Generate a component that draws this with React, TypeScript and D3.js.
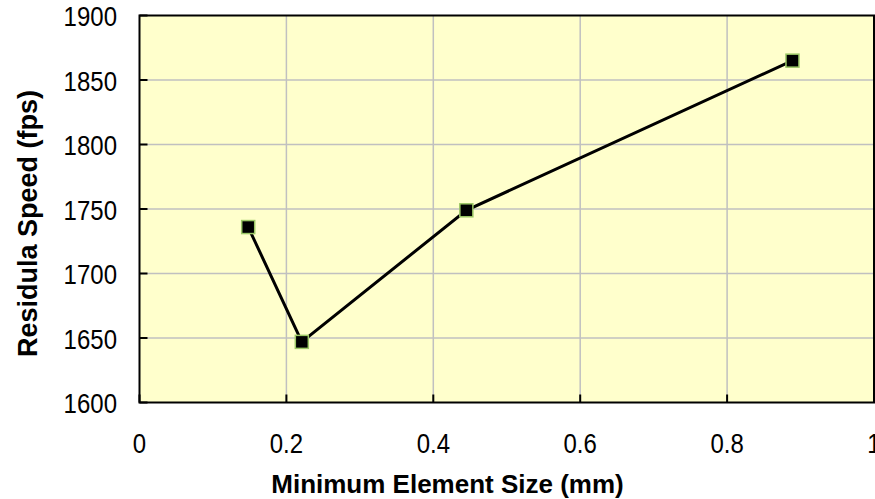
import React from "react";
import * as d3 from "d3";

const sizes = [0.148, 0.221, 0.445, 0.889];
const speeds = [1736, 1647, 1749, 1865];
const xTicks = [0, 0.2, 0.4, 0.6, 0.8, 1];
const yTicks = [1600, 1650, 1700, 1750, 1800, 1850, 1900];
const xTitle = "Minimum Element Size (mm)";
const yTitle = "Residula Speed (fps)";

export default function App() {
  const W = 875, H = 499;
  const L = 139.5, R = 874, T = 15.5, B = 402.5;
  const x = d3.scaleLinear().domain([0, 1]).range([L, R]);
  const y = d3.scaleLinear().domain([1600, 1900]).range([B, T]);
  const pts = sizes.map((s, i) => [x(s), y(speeds[i])] as [number, number]);
  const line = d3.line()(pts) || "";
  const font = "'Liberation Sans', Arial, sans-serif";
  const ms = 13;
  const tickFs = 24;
  const sy = 1.12;
  return (
    <svg width={W} height={H} style={{ position: "absolute", left: 0, top: 0 }}>
      <rect x={L} y={T} width={R - L} height={B - T} fill="#FFFFCC" />
      {xTicks.slice(1, -1).map((t) => (
        <line key={"gx" + t} x1={x(t)} x2={x(t)} y1={T} y2={B} stroke="#c0c0c0" strokeWidth={1.5} />
      ))}
      {yTicks.slice(1, -1).map((t) => (
        <line key={"gy" + t} x1={L} x2={R} y1={y(t)} y2={y(t)} stroke="#c0c0c0" strokeWidth={1.5} />
      ))}
      <rect x={L} y={T} width={R - L} height={B - T} fill="none" stroke="#000" strokeWidth={2} />
      {yTicks.map((t) => (
        <line key={"ty" + t} x1={L} x2={L + 8} y1={y(t)} y2={y(t)} stroke="#000" strokeWidth={2} />
      ))}
      {xTicks.map((t) => (
        <line key={"tx" + t} x1={x(t)} x2={x(t)} y1={B} y2={B - 8} stroke="#000" strokeWidth={2} />
      ))}
      {yTicks.map((t) => (
        <text key={"ly" + t} transform={`translate(117,${y(t) + 10.5}) scale(1,${sy})`} textAnchor="end" fontFamily={font} fontSize={tickFs}>
          {t}
        </text>
      ))}
      {xTicks.map((t) => (
        <text key={"lx" + t} transform={`translate(${x(t)},453) scale(1,${sy})`} textAnchor="middle" fontFamily={font} fontSize={tickFs}>
          {t}
        </text>
      ))}
      <path d={line} fill="none" stroke="#000" strokeWidth={3} />
      {pts.map(([px, py], i) => (
        <rect key={"m" + i} x={px - ms / 2} y={py - ms / 2} width={ms} height={ms} fill="#000" stroke="#9cc866" strokeWidth={1.5} />
      ))}
      <text x={447.5} y={493} textAnchor="middle" fontFamily={font} fontSize={26} fontWeight="bold">
        {xTitle}
      </text>
      <text transform={`translate(37,223.5) rotate(-90)`} textAnchor="middle" fontFamily={font} fontSize={27} fontWeight="bold">
        {yTitle}
      </text>
    </svg>
  );
}
